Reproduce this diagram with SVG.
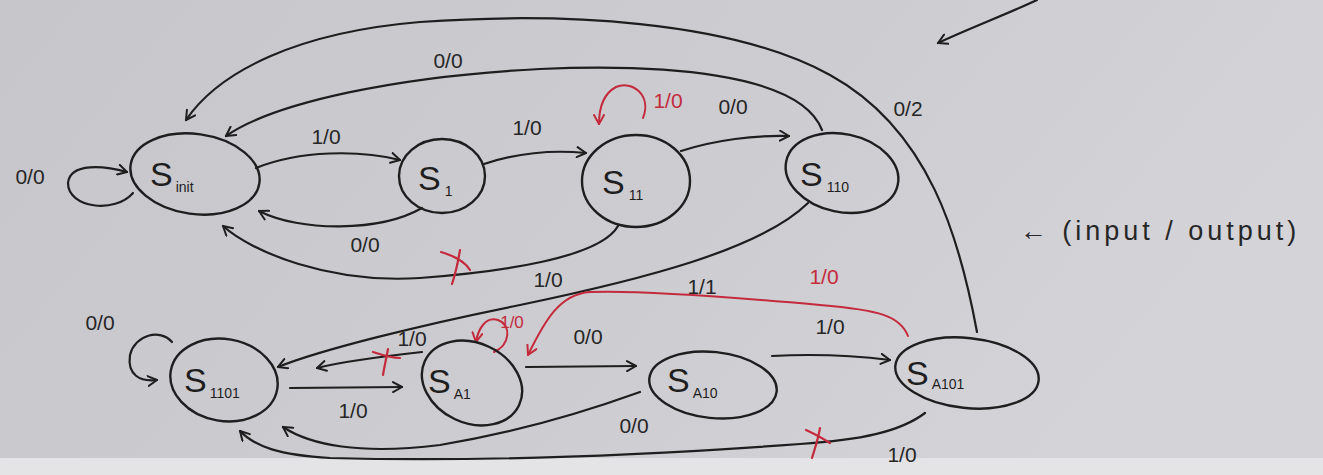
<svg xmlns="http://www.w3.org/2000/svg" width="1323" height="475" viewBox="0 0 1323 475">
<defs>
<linearGradient id="paper" x1="0" y1="0" x2="1" y2="0.3">
<stop offset="0" stop-color="#c7c6cb"/>
<stop offset="0.6" stop-color="#cdccd1"/>
<stop offset="1" stop-color="#d4d3d8"/>
</linearGradient>
<marker id="ab" viewBox="0 0 12 12" refX="10" refY="6" markerWidth="12" markerHeight="12" markerUnits="userSpaceOnUse" orient="auto">
<path d="M1,1 L10,6 L1,11" fill="none" stroke="#1e1e1e" stroke-width="2" stroke-linecap="round" stroke-linejoin="round"/>
</marker>
<marker id="ar" viewBox="0 0 12 12" refX="10" refY="6" markerWidth="12" markerHeight="12" markerUnits="userSpaceOnUse" orient="auto">
<path d="M1,1 L10,6 L1,11" fill="none" stroke="#c42a3c" stroke-width="2" stroke-linecap="round" stroke-linejoin="round"/>
</marker>
</defs>
<style>
.e{fill:none;stroke:#1e1e1e;stroke-width:2.4}
.c{fill:none;stroke:#1e1e1e;stroke-width:2.2;stroke-linecap:round;marker-end:url(#ab)}
.rc{fill:none;stroke:#c42a3c;stroke-width:2;stroke-linecap:round;marker-end:url(#ar)}
.x{fill:none;stroke:#c42a3c;stroke-width:2.2;stroke-linecap:round}
.t{font-family:"Liberation Sans",sans-serif;fill:#262626;font-size:21px;text-anchor:middle}
.tr{fill:#c42a3c}
.s{font-family:"Liberation Sans",sans-serif;fill:#1e1e1e;font-size:34px}
.sb{font-size:14px}
</style>
<rect width="1323" height="475" fill="url(#paper)"/>
<rect y="458" width="1323" height="17" fill="#e4e4e6"/>

<g id="connectors">
<path class="c" d="M133,193 C115,214 68,208 68,183 C70,162 105,166 127,172"/>
<path class="c" d="M256,168 C300,150 360,150 400,160"/>
<path class="c" d="M422,208 C380,232 300,232 259,211"/>
<path class="c" d="M484,164 C520,152 555,150 586,153"/>
<path class="rc" d="M643,118 C652,95 632,80 616,87 C603,94 599,108 599,124"/>
<path class="c" d="M681,151 C715,140 755,135 789,136"/>
<path class="c" d="M618,226 C600,258 500,272 420,278 C330,284 252,252 223,226"/>
<path class="c" d="M822,130 C800,72 660,64 540,69 C400,76 275,102 226,136"/>
<path class="c" d="M977,332 C960,240 930,130 830,75 C730,20 560,12 420,22 C300,32 220,70 186,120"/>
<path class="c" d="M1037,0 C1005,15 970,28 938,43"/>
<path class="c" d="M808,203 C760,250 640,280 520,305 C420,325 320,350 278,367"/>
<path class="c" d="M172,342 C160,328 135,335 130,355 C127,375 140,382 157,380"/>
<path class="c" d="M290,388 L402,387"/>
<path class="c" d="M422,352 C385,356 345,361 317,368"/>
<path class="rc" d="M494,352 C510,345 512,325 498,320 C485,316 478,330 476,342"/>
<path class="rc" d="M908,336 C900,316 880,310 820,305 C720,296 640,290 590,292 C560,294 545,320 528,355"/>
<path class="c" d="M526,367 L636,366"/>
<path class="c" d="M772,356 C810,354 850,355 890,360"/>
<path class="c" d="M640,392 C590,410 520,432 440,445 C360,455 310,445 283,427"/>
<path class="c" d="M925,413 C900,432 860,440 800,444 C650,455 480,462 330,458 C280,455 255,447 240,431"/>
</g>

<g id="marks">
<path class="x" d="M441,252 C455,256 465,262 470,270 M460,250 C458,262 455,275 452,284"/>
<path class="x" d="M373,352 C385,356 395,358 400,358 M388,349 C386,360 384,368 383,375"/>
<path class="x" d="M806,430 C815,434 822,438 830,443 M820,428 C818,440 815,448 812,458"/>
</g>

<g id="labels">
<text class="t" x="30" y="184">0/0</text>
<text class="t" x="326" y="144">1/0</text>
<text class="t" x="365" y="252">0/0</text>
<text class="t" x="527" y="135">1/0</text>
<text class="t tr" x="668" y="108">1/0</text>
<text class="t" x="733" y="114">0/0</text>
<text class="t" x="448" y="68">0/0</text>
<text class="t" x="908" y="116">0/2</text>
<text class="t" x="548" y="287">1/0</text>
<text class="t" x="1160" y="240" style="font-size:27px;letter-spacing:4px">← (input / output)</text>
<text class="t" x="100" y="330">0/0</text>
<text class="t" x="353" y="418">1/0</text>
<text class="t" x="412" y="346">1/0</text>
<text class="t tr" x="512" y="328" style="font-size:17px">1/0</text>
<text class="t" x="588" y="344">0/0</text>
<text class="t" x="702" y="294">1/1</text>
<text class="t tr" x="824" y="284">1/0</text>
<text class="t" x="830" y="334">1/0</text>
<text class="t" x="634" y="433">0/0</text>
<text class="t" x="902" y="462">1/0</text>
</g>

<g id="S_init">
<ellipse class="e" cx="195" cy="174" rx="65" ry="40" transform="rotate(8 195 174)"/>
<text class="s" x="150" y="186">S<tspan class="sb" dy="6" dx="3">init</tspan></text>
</g>
<g id="S_1">
<ellipse class="e" cx="442" cy="176" rx="43" ry="37"/>
<text class="s" x="418" y="190">S<tspan class="sb" dy="6" dx="4">1</tspan></text>
</g>
<g id="S_11">
<ellipse class="e" cx="636" cy="181" rx="54" ry="46"/>
<text class="s" x="602" y="194">S<tspan class="sb" dy="6" dx="4">11</tspan></text>
</g>
<g id="S_110">
<ellipse class="e" cx="842" cy="173" rx="57" ry="39" transform="rotate(12 842 173)"/>
<text class="s" x="800" y="186">S<tspan class="sb" dy="6" dx="4">110</tspan></text>
</g>
<g id="S_1101">
<ellipse class="e" cx="224" cy="380" rx="54" ry="41" transform="rotate(10 224 380)"/>
<text class="s" x="184" y="392">S<tspan class="sb" dy="6" dx="3">1101</tspan></text>
</g>
<g id="S_A1">
<ellipse class="e" cx="472" cy="383" rx="52" ry="40" transform="rotate(25 472 383)"/>
<text class="s" x="428" y="393">S<tspan class="sb" dy="6" dx="3">A1</tspan></text>
</g>
<g id="S_A10">
<ellipse class="e" cx="713" cy="385" rx="64" ry="33" transform="rotate(6 713 385)"/>
<text class="s" x="667" y="392">S<tspan class="sb" dy="6" dx="3">A10</tspan></text>
</g>
<g id="S_A101">
<ellipse class="e" cx="967" cy="373" rx="72" ry="35" transform="rotate(6 967 373)"/>
<text class="s" x="906" y="385">S<tspan class="sb" dy="4" dx="3">A101</tspan></text>
</g>
</svg>
